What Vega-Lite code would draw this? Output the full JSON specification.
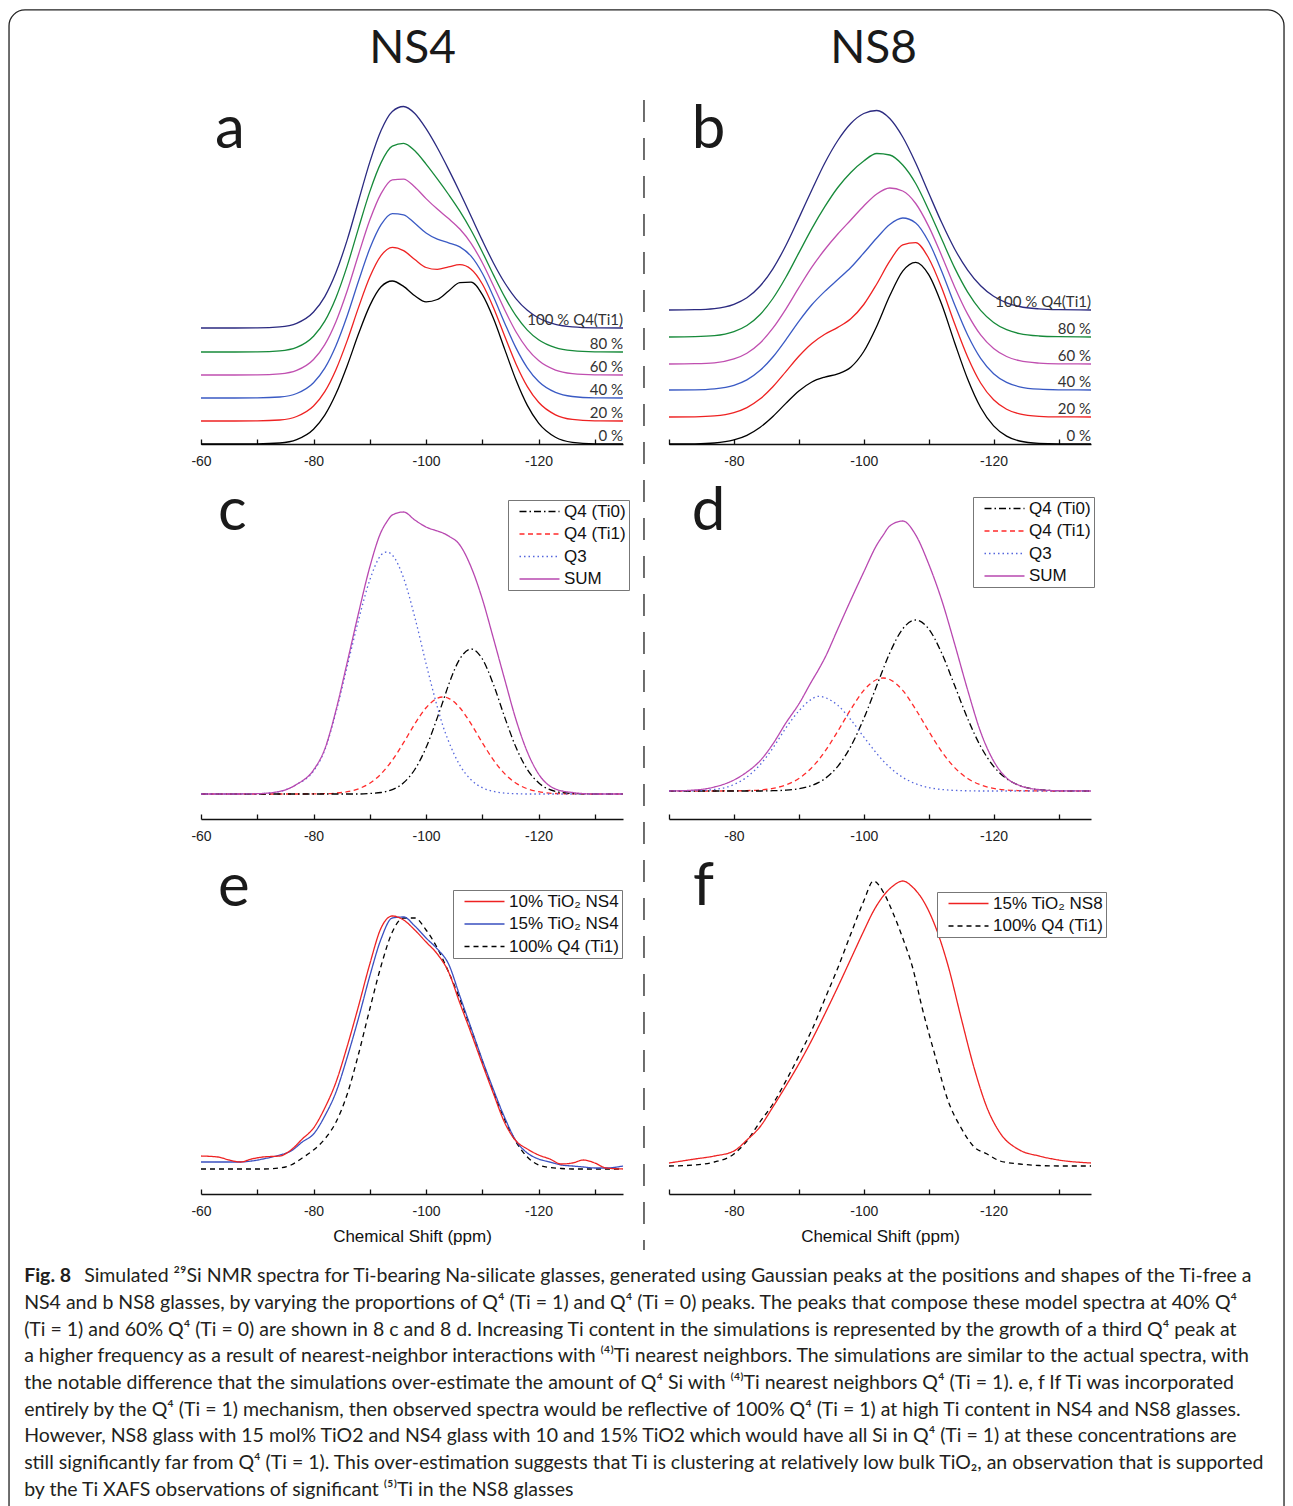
{
  "$schema": "https://vega.github.io/schema/vega-lite/v6.json",
  "background": "white",
  "padding": {"left": 8, "top": 9, "right": 4, "bottom": 0},
  "autosize": {"type": "pad"},
  "config": {
    "view": {"stroke": null},
    "font": "Liberation Sans",
    "axisX": {"tickSize": -5, "labelPadding": 15, "labelFontSize": 14, "labelFont": "Liberation Sans", "labelColor": "#222", "domainColor": "#111", "tickColor": "#111", "domainWidth": 1.3, "tickWidth": 1.3, "labelFlush": false, "labelOverlap": false, "grid": false, "titleFont": "Liberation Sans", "titleFontSize": 17, "titleFontWeight": "normal", "titleColor": "#111", "titlePadding": 10},
    "legend": {"padding": 3, "strokeColor": "#777", "fillColor": "#fff", "symbolSize": 100, "symbolStrokeWidth": 1.3, "labelFont": "Liberation Sans", "labelFontSize": 17, "labelColor": "#111", "labelOffset": 36, "rowPadding": 4.5, "labelLimit": 300}
  },
  "datasets": {
    "A": [
      {"p":-60,"0 %":0,"20 %":23,"40 %":46,"60 %":69,"80 %":92,"100 %":116},
      {"p":-66,"0 %":0,"20 %":23,"40 %":46,"60 %":69,"80 %":92,"100 %":116},
      {"p":-70,"0 %":0.1,"20 %":23.1,"40 %":46.1,"60 %":69.1,"80 %":92.1,"100 %":116.1},
      {"p":-74,"0 %":1,"20 %":24,"40 %":47,"60 %":70.1,"80 %":93.1,"100 %":117.1},
      {"p":-77,"0 %":4.4,"20 %":27.5,"40 %":50.5,"60 %":73.6,"80 %":96.6,"100 %":120.7},
      {"p":-80,"0 %":14.8,"20 %":38,"40 %":61.3,"60 %":84.5,"80 %":107.8,"100 %":132},
      {"p":-82,"0 %":28.8,"20 %":52.3,"40 %":75.8,"60 %":99.4,"80 %":122.9,"100 %":147.4},
      {"p":-84,"0 %":50.4,"20 %":74.5,"40 %":98.5,"60 %":122.6,"80 %":146.6,"100 %":171.7},
      {"p":-86,"0 %":78.6,"20 %":103.6,"40 %":128.5,"60 %":153.5,"80 %":178.4,"100 %":204.4},
      {"p":-88,"0 %":110.2,"20 %":136.6,"40 %":163,"60 %":189.5,"80 %":215.9,"100 %":243.3},
      {"p":-90,"0 %":138.4,"20 %":166.9,"40 %":195.4,"60 %":223.9,"80 %":252.4,"100 %":281.9},
      {"p":-92,"0 %":157.2,"20 %":188.3,"40 %":219.3,"60 %":250.4,"80 %":281.4,"100 %":313.5},
      {"p":-94,"0 %":163,"20 %":196.7,"40 %":230.4,"60 %":264.2,"80 %":297.9,"100 %":332.6},
      {"p":-96,"0 %":157.6,"20 %":193.4,"40 %":229.2,"60 %":264.9,"80 %":300.7,"100 %":337.5},
      {"p":-98,"0 %":148.2,"20 %":184.5,"40 %":220.7,"60 %":257,"80 %":293.2,"100 %":330.5},
      {"p":-100,"0 %":142.1,"20 %":176.5,"40 %":211,"60 %":245.4,"80 %":279.9,"100 %":315.3},
      {"p":-102,"0 %":144.5,"20 %":174.6,"40 %":204.8,"60 %":234.9,"80 %":265.1,"100 %":296.2},
      {"p":-104,"0 %":153,"20 %":177.1,"40 %":201.2,"60 %":225.4,"80 %":249.5,"100 %":274.6},
      {"p":-106,"0 %":161.4,"20 %":179.3,"40 %":197.1,"60 %":215,"80 %":232.8,"100 %":251.7},
      {"p":-108,"0 %":161.8,"20 %":174.8,"40 %":187.8,"60 %":200.7,"80 %":213.7,"100 %":227.7},
      {"p":-110,"0 %":149.4,"20 %":160,"40 %":170.7,"60 %":181.3,"80 %":192,"100 %":203.6},
      {"p":-112,"0 %":125.2,"20 %":136.1,"40 %":147,"60 %":158,"80 %":168.9,"100 %":180.8},
      {"p":-114,"0 %":94.4,"20 %":107.5,"40 %":120.6,"60 %":133.8,"80 %":146.9,"100 %":161},
      {"p":-116,"0 %":63.7,"20 %":79.8,"40 %":95.9,"60 %":112,"80 %":128.1,"100 %":145.2},
      {"p":-118,"0 %":38.6,"20 %":57.4,"40 %":76.2,"60 %":95.1,"80 %":113.9,"100 %":133.7},
      {"p":-120,"0 %":20.9,"20 %":41.7,"40 %":62.5,"60 %":83.4,"80 %":104.2,"100 %":126},
      {"p":-123,"0 %":6.8,"20 %":29.2,"40 %":51.6,"60 %":73.9,"80 %":96.3,"100 %":119.7},
      {"p":-126,"0 %":1.7,"20 %":24.6,"40 %":47.5,"60 %":70.4,"80 %":93.3,"100 %":117.2},
      {"p":-130,"0 %":0.2,"20 %":23.2,"40 %":46.2,"60 %":69.2,"80 %":92.2,"100 %":116.2},
      {"p":-135,"0 %":0,"20 %":23,"40 %":46,"60 %":69,"80 %":92,"100 %":116}
    ],
    "B": [
      {"p":-70,"0 %":0,"20 %":27,"40 %":54,"60 %":80,"80 %":107,"100 %":134},
      {"p":-74,"0 %":0.2,"20 %":27.2,"40 %":54.2,"60 %":80.3,"80 %":107.3,"100 %":134.3},
      {"p":-77,"0 %":1,"20 %":28.1,"40 %":55.2,"60 %":81.2,"80 %":108.3,"100 %":135.4},
      {"p":-80,"0 %":4.1,"20 %":31.4,"40 %":58.7,"60 %":85.1,"80 %":112.4,"100 %":139.7},
      {"p":-82,"0 %":8.7,"20 %":36.4,"40 %":64.1,"60 %":90.8,"80 %":118.5,"100 %":146.2},
      {"p":-84,"0 %":16.5,"20 %":44.9,"40 %":73.4,"60 %":100.8,"80 %":129.3,"100 %":157.7},
      {"p":-86,"0 %":27.6,"20 %":57.3,"40 %":87,"60 %":115.8,"80 %":145.5,"100 %":175.2},
      {"p":-88,"0 %":40.6,"20 %":72.4,"40 %":104.2,"60 %":134.9,"80 %":166.7,"100 %":198.5},
      {"p":-90,"0 %":53,"20 %":87.8,"40 %":122.6,"60 %":156.3,"80 %":191.1,"100 %":225.9},
      {"p":-92,"0 %":62,"20 %":100.6,"40 %":139.2,"60 %":176.8,"80 %":215.4,"100 %":254},
      {"p":-94,"0 %":66.9,"20 %":109.8,"40 %":152.6,"60 %":194.5,"80 %":237.3,"100 %":281},
      {"p":-96,"0 %":70.1,"20 %":116.6,"40 %":164.5,"60 %":210,"80 %":256.5,"100 %":303.5},
      {"p":-98,"0 %":76.8,"20 %":125.2,"40 %":176.5,"60 %":224,"80 %":271.5,"100 %":320.5},
      {"p":-100,"0 %":92.5,"20 %":139.5,"40 %":191,"60 %":238,"80 %":283,"100 %":330.5},
      {"p":-102,"0 %":117.8,"20 %":160,"40 %":206,"60 %":250,"80 %":290.5,"100 %":333.5},
      {"p":-104,"0 %":148.2,"20 %":182.8,"40 %":219.5,"60 %":256,"80 %":289,"100 %":325.5},
      {"p":-106,"0 %":172.9,"20 %":199.2,"40 %":226,"60 %":253,"80 %":279,"100 %":307},
      {"p":-108,"0 %":181.7,"20 %":201.4,"40 %":221.1,"60 %":240.5,"80 %":260.5,"100 %":281},
      {"p":-110,"0 %":169.4,"20 %":185.8,"40 %":202.2,"60 %":217.6,"80 %":234,"100 %":251},
      {"p":-112,"0 %":139.7,"20 %":156.2,"40 %":172.8,"60 %":188.3,"80 %":204.9,"100 %":221.4},
      {"p":-114,"0 %":101.3,"20 %":120.2,"40 %":139.2,"60 %":157.1,"80 %":176.1,"100 %":195},
      {"p":-116,"0 %":65,"20 %":87,"40 %":109,"60 %":129.9,"80 %":151.9,"100 %":173.9},
      {"p":-118,"0 %":36.5,"20 %":61,"40 %":85.6,"60 %":109.1,"80 %":133.7,"100 %":158.2},
      {"p":-120,"0 %":18.1,"20 %":44.2,"40 %":70.3,"60 %":95.5,"80 %":121.6,"100 %":147.7},
      {"p":-122,"0 %":7.9,"20 %":34.8,"40 %":61.6,"60 %":87.5,"80 %":114.3,"100 %":141.2},
      {"p":-124,"0 %":3,"20 %":30.1,"40 %":57.2,"60 %":83.3,"80 %":110.4,"100 %":137.5},
      {"p":-127,"0 %":0.6,"20 %":27.7,"40 %":54.8,"60 %":80.9,"80 %":108,"100 %":135.1},
      {"p":-130,"0 %":0.1,"20 %":27.1,"40 %":54.2,"60 %":80.2,"80 %":107.3,"100 %":134.3},
      {"p":-135,"0 %":0,"20 %":27,"40 %":54,"60 %":80,"80 %":107,"100 %":134}
    ],
    "C": [
      {"p":-60,"Q4 (Ti0)":0,"Q4 (Ti1)":0,"Q3":0,"SUM":0},
      {"p":-66,"Q4 (Ti0)":0,"Q4 (Ti1)":0,"Q3":0,"SUM":0},
      {"p":-70,"Q4 (Ti0)":0,"Q4 (Ti1)":0,"Q3":0.3,"SUM":0.3},
      {"p":-74,"Q4 (Ti0)":0,"Q4 (Ti1)":0,"Q3":2.6,"SUM":2.6},
      {"p":-77,"Q4 (Ti0)":0,"Q4 (Ti1)":0,"Q3":9.6,"SUM":9.6},
      {"p":-80,"Q4 (Ti0)":0,"Q4 (Ti1)":0.1,"Q3":23,"SUM":24},
      {"p":-82,"Q4 (Ti0)":0,"Q4 (Ti1)":0.3,"Q3":44,"SUM":45},
      {"p":-84,"Q4 (Ti0)":0,"Q4 (Ti1)":0.9,"Q3":82,"SUM":84},
      {"p":-86,"Q4 (Ti0)":0,"Q4 (Ti1)":2.3,"Q3":128,"SUM":132},
      {"p":-88,"Q4 (Ti0)":0,"Q4 (Ti1)":5.2,"Q3":174,"SUM":181},
      {"p":-90,"Q4 (Ti0)":0.5,"Q4 (Ti1)":10.8,"Q3":214,"SUM":227},
      {"p":-92,"Q4 (Ti0)":1.5,"Q4 (Ti1)":20.1,"Q3":238.9,"SUM":262},
      {"p":-93,"Q4 (Ti0)":2.6,"Q4 (Ti1)":26.5,"Q3":242,"SUM":272},
      {"p":-94,"Q4 (Ti0)":4.4,"Q4 (Ti1)":33.8,"Q3":238.9,"SUM":279},
      {"p":-96,"Q4 (Ti0)":11.2,"Q4 (Ti1)":51.3,"Q3":216.1,"SUM":282},
      {"p":-98,"Q4 (Ti0)":24.5,"Q4 (Ti1)":70.1,"Q3":176.7,"SUM":274},
      {"p":-100,"Q4 (Ti0)":46.4,"Q4 (Ti1)":86.3,"Q3":130.4,"SUM":267},
      {"p":-102,"Q4 (Ti0)":76.4,"Q4 (Ti1)":95.7,"Q3":87.1,"SUM":263},
      {"p":-103,"Q4 (Ti0)":92.5,"Q4 (Ti1)":97,"Q3":68,"SUM":261},
      {"p":-104,"Q4 (Ti0)":109.1,"Q4 (Ti1)":95.7,"Q3":52.8,"SUM":258},
      {"p":-106,"Q4 (Ti0)":135,"Q4 (Ti1)":86.3,"Q3":28.8,"SUM":249},
      {"p":-108,"Q4 (Ti0)":145,"Q4 (Ti1)":70.1,"Q3":14.2,"SUM":227},
      {"p":-110,"Q4 (Ti0)":135,"Q4 (Ti1)":51.3,"Q3":6.3,"SUM":195},
      {"p":-112,"Q4 (Ti0)":109.1,"Q4 (Ti1)":33.8,"Q3":2.6,"SUM":155},
      {"p":-114,"Q4 (Ti0)":76.4,"Q4 (Ti1)":20.1,"Q3":0.9,"SUM":114},
      {"p":-116,"Q4 (Ti0)":46.4,"Q4 (Ti1)":10.8,"Q3":0.3,"SUM":74},
      {"p":-118,"Q4 (Ti0)":24.5,"Q4 (Ti1)":5.2,"Q3":0,"SUM":42},
      {"p":-120,"Q4 (Ti0)":11.2,"Q4 (Ti1)":2.3,"Q3":0,"SUM":20},
      {"p":-123,"Q4 (Ti0)":2.6,"Q4 (Ti1)":0.5,"Q3":0,"SUM":5},
      {"p":-126,"Q4 (Ti0)":0.5,"Q4 (Ti1)":0.1,"Q3":0,"SUM":1.5},
      {"p":-130,"Q4 (Ti0)":0,"Q4 (Ti1)":0,"Q3":0,"SUM":0},
      {"p":-135,"Q4 (Ti0)":0,"Q4 (Ti1)":0,"Q3":0,"SUM":0}
    ],
    "D": [
      {"p":-70,"Q4 (Ti0)":0,"Q4 (Ti1)":0,"Q3":0,"SUM":0},
      {"p":-74,"Q4 (Ti0)":0,"Q4 (Ti1)":0,"Q3":0.3,"SUM":1},
      {"p":-77,"Q4 (Ti0)":0,"Q4 (Ti1)":0,"Q3":1.5,"SUM":4},
      {"p":-80,"Q4 (Ti0)":0,"Q4 (Ti1)":0.1,"Q3":6.5,"SUM":11},
      {"p":-82,"Q4 (Ti0)":0,"Q4 (Ti1)":0.4,"Q3":14,"SUM":19},
      {"p":-84,"Q4 (Ti0)":0,"Q4 (Ti1)":1,"Q3":26,"SUM":30},
      {"p":-86,"Q4 (Ti0)":0.3,"Q4 (Ti1)":2.6,"Q3":43,"SUM":47},
      {"p":-88,"Q4 (Ti0)":0.8,"Q4 (Ti1)":6.1,"Q3":63,"SUM":68},
      {"p":-90,"Q4 (Ti0)":2.2,"Q4 (Ti1)":12.5,"Q3":80,"SUM":87},
      {"p":-92,"Q4 (Ti0)":5.5,"Q4 (Ti1)":23.4,"Q3":92,"SUM":110},
      {"p":-93,"Q4 (Ti0)":8.3,"Q4 (Ti1)":30.8,"Q3":94.7,"SUM":121},
      {"p":-94,"Q4 (Ti0)":12.3,"Q4 (Ti1)":39.4,"Q3":93.5,"SUM":133},
      {"p":-96,"Q4 (Ti0)":24.7,"Q4 (Ti1)":59.8,"Q3":85.7,"SUM":162},
      {"p":-98,"Q4 (Ti0)":44.6,"Q4 (Ti1)":81.6,"Q3":71.3,"SUM":191},
      {"p":-100,"Q4 (Ti0)":72.4,"Q4 (Ti1)":100.6,"Q3":54.1,"SUM":219},
      {"p":-102,"Q4 (Ti0)":105.4,"Q4 (Ti1)":111.5,"Q3":37.5,"SUM":246},
      {"p":-103,"Q4 (Ti0)":122.2,"Q4 (Ti1)":113,"Q3":30.1,"SUM":256},
      {"p":-104,"Q4 (Ti0)":137.9,"Q4 (Ti1)":111.5,"Q3":23.7,"SUM":265},
      {"p":-106,"Q4 (Ti0)":162.1,"Q4 (Ti1)":100.6,"Q3":13.7,"SUM":270},
      {"p":-108,"Q4 (Ti0)":171,"Q4 (Ti1)":81.6,"Q3":7.2,"SUM":256},
      {"p":-110,"Q4 (Ti0)":162.1,"Q4 (Ti1)":59.8,"Q3":3.4,"SUM":227},
      {"p":-112,"Q4 (Ti0)":137.9,"Q4 (Ti1)":39.4,"Q3":1.5,"SUM":191},
      {"p":-114,"Q4 (Ti0)":105.4,"Q4 (Ti1)":23.4,"Q3":0.6,"SUM":147},
      {"p":-116,"Q4 (Ti0)":72.4,"Q4 (Ti1)":12.5,"Q3":0.2,"SUM":101},
      {"p":-118,"Q4 (Ti0)":44.6,"Q4 (Ti1)":6.1,"Q3":0,"SUM":59},
      {"p":-120,"Q4 (Ti0)":24.7,"Q4 (Ti1)":2.6,"Q3":0,"SUM":30},
      {"p":-122,"Q4 (Ti0)":12.3,"Q4 (Ti1)":1,"Q3":0,"SUM":13},
      {"p":-124,"Q4 (Ti0)":5.5,"Q4 (Ti1)":0.4,"Q3":0,"SUM":5.5},
      {"p":-127,"Q4 (Ti0)":1.3,"Q4 (Ti1)":0.1,"Q3":0,"SUM":1.4},
      {"p":-130,"Q4 (Ti0)":0.3,"Q4 (Ti1)":0,"Q3":0,"SUM":0.3},
      {"p":-135,"Q4 (Ti0)":0,"Q4 (Ti1)":0,"Q3":0,"SUM":0}
    ],
    "E": [
      {"p":-60,"10% TiO₂ NS4":38,"15% TiO₂ NS4":32,"100% Q4 (Ti1)":25},
      {"p":-63,"10% TiO₂ NS4":37,"15% TiO₂ NS4":32,"100% Q4 (Ti1)":25},
      {"p":-65,"10% TiO₂ NS4":34,"15% TiO₂ NS4":32,"100% Q4 (Ti1)":25},
      {"p":-67,"10% TiO₂ NS4":32,"15% TiO₂ NS4":32,"100% Q4 (Ti1)":25},
      {"p":-69,"10% TiO₂ NS4":35,"15% TiO₂ NS4":33,"100% Q4 (Ti1)":25},
      {"p":-71,"10% TiO₂ NS4":37,"15% TiO₂ NS4":35,"100% Q4 (Ti1)":25},
      {"p":-74,"10% TiO₂ NS4":38,"15% TiO₂ NS4":39,"100% Q4 (Ti1)":26},
      {"p":-76,"10% TiO₂ NS4":44,"15% TiO₂ NS4":43,"100% Q4 (Ti1)":29},
      {"p":-78,"10% TiO₂ NS4":55,"15% TiO₂ NS4":52,"100% Q4 (Ti1)":36},
      {"p":-80,"10% TiO₂ NS4":66,"15% TiO₂ NS4":60,"100% Q4 (Ti1)":44},
      {"p":-82,"10% TiO₂ NS4":86,"15% TiO₂ NS4":78,"100% Q4 (Ti1)":55},
      {"p":-84,"10% TiO₂ NS4":112,"15% TiO₂ NS4":102,"100% Q4 (Ti1)":72},
      {"p":-86,"10% TiO₂ NS4":148,"15% TiO₂ NS4":137,"100% Q4 (Ti1)":100},
      {"p":-88,"10% TiO₂ NS4":188,"15% TiO₂ NS4":176,"100% Q4 (Ti1)":140},
      {"p":-90,"10% TiO₂ NS4":230,"15% TiO₂ NS4":218,"100% Q4 (Ti1)":185},
      {"p":-92,"10% TiO₂ NS4":266,"15% TiO₂ NS4":255,"100% Q4 (Ti1)":228},
      {"p":-94,"10% TiO₂ NS4":278,"15% TiO₂ NS4":276,"100% Q4 (Ti1)":262},
      {"p":-96,"10% TiO₂ NS4":274,"15% TiO₂ NS4":277,"100% Q4 (Ti1)":276},
      {"p":-98,"10% TiO₂ NS4":264,"15% TiO₂ NS4":268,"100% Q4 (Ti1)":276},
      {"p":-100,"10% TiO₂ NS4":252,"15% TiO₂ NS4":256,"100% Q4 (Ti1)":264},
      {"p":-102,"10% TiO₂ NS4":240,"15% TiO₂ NS4":245,"100% Q4 (Ti1)":246},
      {"p":-104,"10% TiO₂ NS4":222,"15% TiO₂ NS4":230,"100% Q4 (Ti1)":222},
      {"p":-106,"10% TiO₂ NS4":191,"15% TiO₂ NS4":198,"100% Q4 (Ti1)":195},
      {"p":-108,"10% TiO₂ NS4":161,"15% TiO₂ NS4":166,"100% Q4 (Ti1)":165},
      {"p":-110,"10% TiO₂ NS4":130,"15% TiO₂ NS4":134,"100% Q4 (Ti1)":133},
      {"p":-112,"10% TiO₂ NS4":100,"15% TiO₂ NS4":104,"100% Q4 (Ti1)":102},
      {"p":-114,"10% TiO₂ NS4":71,"15% TiO₂ NS4":76,"100% Q4 (Ti1)":74},
      {"p":-116,"10% TiO₂ NS4":53,"15% TiO₂ NS4":53,"100% Q4 (Ti1)":52},
      {"p":-118,"10% TiO₂ NS4":45,"15% TiO₂ NS4":41,"100% Q4 (Ti1)":37},
      {"p":-120,"10% TiO₂ NS4":39,"15% TiO₂ NS4":35,"100% Q4 (Ti1)":29},
      {"p":-122,"10% TiO₂ NS4":35,"15% TiO₂ NS4":32,"100% Q4 (Ti1)":26.5},
      {"p":-124,"10% TiO₂ NS4":30,"15% TiO₂ NS4":29,"100% Q4 (Ti1)":25.5},
      {"p":-126,"10% TiO₂ NS4":31,"15% TiO₂ NS4":28,"100% Q4 (Ti1)":25},
      {"p":-128,"10% TiO₂ NS4":34,"15% TiO₂ NS4":27,"100% Q4 (Ti1)":25},
      {"p":-130,"10% TiO₂ NS4":31,"15% TiO₂ NS4":26,"100% Q4 (Ti1)":25},
      {"p":-132,"10% TiO₂ NS4":26,"15% TiO₂ NS4":26,"100% Q4 (Ti1)":25},
      {"p":-135,"10% TiO₂ NS4":25,"15% TiO₂ NS4":28,"100% Q4 (Ti1)":25}
    ],
    "F": [
      {"p":-70,"15% TiO₂ NS8":31,"100% Q4 (Ti1)":28},
      {"p":-74,"15% TiO₂ NS8":35,"100% Q4 (Ti1)":29},
      {"p":-77,"15% TiO₂ NS8":38,"100% Q4 (Ti1)":32},
      {"p":-80,"15% TiO₂ NS8":43,"100% Q4 (Ti1)":40},
      {"p":-82,"15% TiO₂ NS8":54,"100% Q4 (Ti1)":53},
      {"p":-84,"15% TiO₂ NS8":67,"100% Q4 (Ti1)":72},
      {"p":-86,"15% TiO₂ NS8":87,"100% Q4 (Ti1)":90},
      {"p":-88,"15% TiO₂ NS8":108,"100% Q4 (Ti1)":113},
      {"p":-90,"15% TiO₂ NS8":130,"100% Q4 (Ti1)":138},
      {"p":-92,"15% TiO₂ NS8":154,"100% Q4 (Ti1)":164},
      {"p":-94,"15% TiO₂ NS8":180,"100% Q4 (Ti1)":195},
      {"p":-96,"15% TiO₂ NS8":207,"100% Q4 (Ti1)":226},
      {"p":-98,"15% TiO₂ NS8":235,"100% Q4 (Ti1)":260},
      {"p":-100,"15% TiO₂ NS8":263,"100% Q4 (Ti1)":293},
      {"p":-101.5,"15% TiO₂ NS8":283,"100% Q4 (Ti1)":313},
      {"p":-103,"15% TiO₂ NS8":298,"100% Q4 (Ti1)":302},
      {"p":-104.5,"15% TiO₂ NS8":308,"100% Q4 (Ti1)":281},
      {"p":-106,"15% TiO₂ NS8":313,"100% Q4 (Ti1)":256},
      {"p":-107.5,"15% TiO₂ NS8":307,"100% Q4 (Ti1)":227},
      {"p":-109,"15% TiO₂ NS8":295,"100% Q4 (Ti1)":186},
      {"p":-111,"15% TiO₂ NS8":268,"100% Q4 (Ti1)":138},
      {"p":-113,"15% TiO₂ NS8":228,"100% Q4 (Ti1)":93},
      {"p":-115,"15% TiO₂ NS8":176,"100% Q4 (Ti1)":66},
      {"p":-117,"15% TiO₂ NS8":126,"100% Q4 (Ti1)":47},
      {"p":-119,"15% TiO₂ NS8":86,"100% Q4 (Ti1)":40},
      {"p":-121,"15% TiO₂ NS8":61,"100% Q4 (Ti1)":33},
      {"p":-124,"15% TiO₂ NS8":44,"100% Q4 (Ti1)":30},
      {"p":-127,"15% TiO₂ NS8":38,"100% Q4 (Ti1)":28.5},
      {"p":-130,"15% TiO₂ NS8":34,"100% Q4 (Ti1)":28},
      {"p":-135,"15% TiO₂ NS8":31,"100% Q4 (Ti1)":28}
    ]
  },
  "columns": 2,
  "spacing": {"row": 45, "column": 46},
  "bounds": "flush",
  "resolve": {"scale": {"x": "independent", "y": "independent", "color": "independent", "strokeDash": "independent"}},
  "concat": [
    {
      "width": 422, "height": 330,
      "layer": [
        {
          "data": {"name": "A"},
          "transform": [{"fold": ["100 %", "80 %", "60 %", "40 %", "20 %", "0 %"], "as": ["s", "v"]}],
          "mark": {"type": "line", "strokeWidth": 1.3, "interpolate": "monotone"},
          "encoding": {
            "x": {"field": "p", "type": "quantitative", "scale": {"domain": [-135, -60], "reverse": true, "nice": false, "zero": false}, "axis": {"values": [-60, -70, -80, -90, -100, -110, -120, -130], "labelExpr": "datum.value % 20 == 0 ? '' + datum.value : ''", "title": null}},
            "y": {"field": "v", "type": "quantitative", "scale": {"domain": [0, 330], "nice": false, "zero": false}, "axis": null},
            "color": {"field": "s", "type": "nominal", "scale": {"domain": ["0 %", "20 %", "40 %", "60 %", "80 %", "100 %"], "range": ["#000000", "#ee2222", "#3a5ac4", "#c04fb0", "#178a3a", "#2b2a80"]}, "legend": null}
          }
        },
        {
          "data": {"values": [{"lab": "100 % Q4(Ti1)", "base": 116}, {"lab": "80 %", "base": 92}, {"lab": "60 %", "base": 69}, {"lab": "40 %", "base": 46}, {"lab": "20 %", "base": 23}, {"lab": "0 %", "base": 0}]},
          "mark": {"type": "text", "align": "right", "baseline": "alphabetic", "dy": -3, "font": "Lato", "fontSize": 15, "color": "#333"},
          "encoding": {"x": {"datum": -135}, "y": {"field": "base", "type": "quantitative"}, "text": {"field": "lab"}}
        },
        {
          "data": {"values": [{"t": "a"}]},
          "mark": {"type": "text", "align": "left", "baseline": "alphabetic", "font": "Lato", "fontSize": 60, "color": "#1a1a1a"},
          "encoding": {"x": {"datum": -62.5}, "y": {"datum": 296}, "text": {"field": "t"}}
        },
        {
          "data": {"values": [{"t": "NS4"}]},
          "mark": {"type": "text", "align": "center", "baseline": "alphabetic", "font": "Lato", "fontSize": 46, "color": "#1a1a1a"},
          "encoding": {"x": {"datum": -97.6}, "y": {"datum": 381}, "text": {"field": "t"}}
        }
      ]
    },
    {
      "width": 422, "height": 330,
      "layer": [
        {
          "data": {"name": "B"},
          "transform": [{"fold": ["100 %", "80 %", "60 %", "40 %", "20 %", "0 %"], "as": ["s", "v"]}],
          "mark": {"type": "line", "strokeWidth": 1.3, "interpolate": "monotone"},
          "encoding": {
            "x": {"field": "p", "type": "quantitative", "scale": {"domain": [-135, -70], "reverse": true, "nice": false, "zero": false}, "axis": {"values": [-70, -80, -90, -100, -110, -120, -130], "labelExpr": "datum.value % 20 == 0 ? '' + datum.value : ''", "title": null}},
            "y": {"field": "v", "type": "quantitative", "scale": {"domain": [0, 330], "nice": false, "zero": false}, "axis": null},
            "color": {"field": "s", "type": "nominal", "scale": {"domain": ["0 %", "20 %", "40 %", "60 %", "80 %", "100 %"], "range": ["#000000", "#ee2222", "#3a5ac4", "#c04fb0", "#178a3a", "#2b2a80"]}, "legend": null}
          }
        },
        {
          "data": {"values": [{"lab": "100 % Q4(Ti1)", "base": 134}, {"lab": "80 %", "base": 107}, {"lab": "60 %", "base": 80}, {"lab": "40 %", "base": 54}, {"lab": "20 %", "base": 27}, {"lab": "0 %", "base": 0}]},
          "mark": {"type": "text", "align": "right", "baseline": "alphabetic", "dy": -3, "font": "Lato", "fontSize": 15, "color": "#333"},
          "encoding": {"x": {"datum": -135}, "y": {"field": "base", "type": "quantitative"}, "text": {"field": "lab"}}
        },
        {
          "data": {"values": [{"t": "b"}]},
          "mark": {"type": "text", "align": "left", "baseline": "alphabetic", "font": "Lato", "fontSize": 60, "color": "#1a1a1a"},
          "encoding": {"x": {"datum": -73.5}, "y": {"datum": 296}, "text": {"field": "t"}}
        },
        {
          "data": {"values": [{"t": "NS8"}]},
          "mark": {"type": "text", "align": "center", "baseline": "alphabetic", "font": "Lato", "fontSize": 46, "color": "#1a1a1a"},
          "encoding": {"x": {"datum": -101.5}, "y": {"datum": 381}, "text": {"field": "t"}}
        }
      ]
    },
    {
      "width": 422, "height": 330,
      "layer": [
        {
          "data": {"name": "C"},
          "transform": [{"fold": ["Q4 (Ti1)", "Q4 (Ti0)", "Q3", "SUM"], "as": ["s", "v"]}],
          "mark": {"type": "line", "strokeWidth": 1.3, "interpolate": "monotone"},
          "encoding": {
            "x": {"field": "p", "type": "quantitative", "scale": {"domain": [-135, -60], "reverse": true, "nice": false, "zero": false}, "axis": {"values": [-60, -70, -80, -90, -100, -110, -120, -130], "labelExpr": "datum.value % 20 == 0 ? '' + datum.value : ''", "title": null}},
            "y": {"field": "v", "type": "quantitative", "scale": {"domain": [-25, 305], "nice": false, "zero": false}, "axis": null},
            "color": {"field": "s", "type": "nominal", "scale": {"domain": ["Q4 (Ti0)", "Q4 (Ti1)", "Q3", "SUM"], "range": ["#000000", "#ff2a2a", "#5566dd", "#b848b0"]}, "legend": {"title": null, "orient": "none", "legendX": 307, "legendY": 11, "symbolType": "M0,0H8"}},
            "strokeDash": {"field": "s", "type": "nominal", "scale": {"domain": ["Q4 (Ti0)", "Q4 (Ti1)", "Q3", "SUM"], "range": [[7, 3, 1.5, 3], [5, 3.5], [1.5, 3], [1, 0]]}, "legend": {"title": null, "orient": "none", "legendX": 307, "legendY": 11, "symbolType": "M0,0H8"}}
          }
        },
        {
          "data": {"values": [{"t": "c"}]},
          "mark": {"type": "text", "align": "left", "baseline": "alphabetic", "font": "Lato", "fontSize": 60, "color": "#1a1a1a"},
          "encoding": {"x": {"datum": -63}, "y": {"datum": 264}, "text": {"field": "t"}}
        }
      ]
    },
    {
      "width": 422, "height": 330,
      "layer": [
        {
          "data": {"name": "D"},
          "transform": [{"fold": ["Q4 (Ti1)", "Q4 (Ti0)", "Q3", "SUM"], "as": ["s", "v"]}],
          "mark": {"type": "line", "strokeWidth": 1.3, "interpolate": "monotone"},
          "encoding": {
            "x": {"field": "p", "type": "quantitative", "scale": {"domain": [-135, -70], "reverse": true, "nice": false, "zero": false}, "axis": {"values": [-70, -80, -90, -100, -110, -120, -130], "labelExpr": "datum.value % 20 == 0 ? '' + datum.value : ''", "title": null}},
            "y": {"field": "v", "type": "quantitative", "scale": {"domain": [-28, 302], "nice": false, "zero": false}, "axis": null},
            "color": {"field": "s", "type": "nominal", "scale": {"domain": ["Q4 (Ti0)", "Q4 (Ti1)", "Q3", "SUM"], "range": ["#000000", "#ff2a2a", "#5566dd", "#b848b0"]}, "legend": {"title": null, "orient": "none", "legendX": 304, "legendY": 8, "symbolType": "M0,0H8"}},
            "strokeDash": {"field": "s", "type": "nominal", "scale": {"domain": ["Q4 (Ti0)", "Q4 (Ti1)", "Q3", "SUM"], "range": [[7, 3, 1.5, 3], [5, 3.5], [1.5, 3], [1, 0]]}, "legend": {"title": null, "orient": "none", "legendX": 304, "legendY": 8, "symbolType": "M0,0H8"}}
          }
        },
        {
          "data": {"values": [{"t": "d"}]},
          "mark": {"type": "text", "align": "left", "baseline": "alphabetic", "font": "Lato", "fontSize": 60, "color": "#1a1a1a"},
          "encoding": {"x": {"datum": -73.5}, "y": {"datum": 261}, "text": {"field": "t"}}
        }
      ]
    },
    {
      "width": 422, "height": 330,
      "layer": [
        {
          "data": {"name": "E"},
          "transform": [{"fold": ["100% Q4 (Ti1)", "15% TiO₂ NS4", "10% TiO₂ NS4"], "as": ["s", "v"]}],
          "mark": {"type": "line", "strokeWidth": 1.3, "interpolate": "monotone"},
          "encoding": {
            "x": {"field": "p", "type": "quantitative", "scale": {"domain": [-135, -60], "reverse": true, "nice": false, "zero": false}, "axis": {"values": [-60, -70, -80, -90, -100, -110, -120, -130], "labelExpr": "datum.value % 20 == 0 ? '' + datum.value : ''", "title": "Chemical Shift (ppm)"}},
            "y": {"field": "v", "type": "quantitative", "scale": {"domain": [0, 330], "nice": false, "zero": false}, "axis": null},
            "color": {"field": "s", "type": "nominal", "scale": {"domain": ["10% TiO₂ NS4", "15% TiO₂ NS4", "100% Q4 (Ti1)"], "range": ["#ee2222", "#3a50c0", "#000000"]}, "legend": {"title": null, "orient": "none", "legendX": 252, "legendY": 26, "symbolType": "M0,0H8"}},
            "strokeDash": {"field": "s", "type": "nominal", "scale": {"domain": ["10% TiO₂ NS4", "15% TiO₂ NS4", "100% Q4 (Ti1)"], "range": [[1, 0], [1, 0], [5, 4]]}, "legend": {"title": null, "orient": "none", "legendX": 252, "legendY": 26, "symbolType": "M0,0H8"}}
          }
        },
        {
          "data": {"values": [{"t": "e"}]},
          "mark": {"type": "text", "align": "left", "baseline": "alphabetic", "font": "Lato", "fontSize": 60, "color": "#1a1a1a"},
          "encoding": {"x": {"datum": -63}, "y": {"datum": 288}, "text": {"field": "t"}}
        }
      ]
    },
    {
      "width": 422, "height": 330,
      "layer": [
        {
          "data": {"name": "F"},
          "transform": [{"fold": ["100% Q4 (Ti1)", "15% TiO₂ NS8"], "as": ["s", "v"]}],
          "mark": {"type": "line", "strokeWidth": 1.3, "interpolate": "monotone"},
          "encoding": {
            "x": {"field": "p", "type": "quantitative", "scale": {"domain": [-135, -70], "reverse": true, "nice": false, "zero": false}, "axis": {"values": [-70, -80, -90, -100, -110, -120, -130], "labelExpr": "datum.value % 20 == 0 ? '' + datum.value : ''", "title": "Chemical Shift (ppm)"}},
            "y": {"field": "v", "type": "quantitative", "scale": {"domain": [0, 330], "nice": false, "zero": false}, "axis": null},
            "color": {"field": "s", "type": "nominal", "scale": {"domain": ["15% TiO₂ NS8", "100% Q4 (Ti1)"], "range": ["#ee2222", "#000000"]}, "legend": {"title": null, "orient": "none", "legendX": 268, "legendY": 28, "symbolType": "M0,0H8"}},
            "strokeDash": {"field": "s", "type": "nominal", "scale": {"domain": ["15% TiO₂ NS8", "100% Q4 (Ti1)"], "range": [[1, 0], [5, 4]]}, "legend": {"title": null, "orient": "none", "legendX": 268, "legendY": 28, "symbolType": "M0,0H8"}}
          }
        },
        {
          "data": {"values": [{"t": "f"}]},
          "mark": {"type": "text", "align": "left", "baseline": "alphabetic", "font": "Lato", "fontSize": 60, "color": "#1a1a1a"},
          "encoding": {"x": {"datum": -73.7}, "y": {"datum": 289}, "text": {"field": "t"}}
        }
      ]
    },
    {
      "width": 422, "height": 264,
      "layer": [
        {
          "data": {"values": [
            {"line": 2, "t": "NS4 and b NS8 glasses, by varying the proportions of Q⁴ (Ti = 1) and Q⁴ (Ti = 0) peaks. The peaks that compose these model spectra at 40% Q⁴"},
            {"line": 3, "t": "(Ti = 1) and 60% Q⁴ (Ti = 0) are shown in 8 c and 8 d. Increasing Ti content in the simulations is represented by the growth of a third Q⁴ peak at"},
            {"line": 4, "t": "a higher frequency as a result of nearest-neighbor interactions with ⁽⁴⁾Ti nearest neighbors. The simulations are similar to the actual spectra, with"},
            {"line": 5, "t": "the notable difference that the simulations over-estimate the amount of Q⁴ Si with ⁽⁴⁾Ti nearest neighbors Q⁴ (Ti = 1). e, f If Ti was incorporated"},
            {"line": 6, "t": "entirely by the Q⁴ (Ti = 1) mechanism, then observed spectra would be reflective of 100% Q⁴ (Ti = 1) at high Ti content in NS4 and NS8 glasses."},
            {"line": 7, "t": "However, NS8 glass with 15 mol% TiO2 and NS4 glass with 10 and 15% TiO2 which would have all Si in Q⁴ (Ti = 1) at these concentrations are"},
            {"line": 8, "t": "still significantly far from Q⁴ (Ti = 1). This over-estimation suggests that Ti is clustering at relatively low bulk TiO₂, an observation that is supported"},
            {"line": 9, "t": "by the Ti XAFS observations of significant ⁽⁵⁾Ti in the NS8 glasses"}
          ]},
          "mark": {"type": "text", "align": "left", "baseline": "middle", "font": "Lato", "fontSize": 19.5, "color": "#231f20"},
          "encoding": {
            "x": {"datum": -28.57, "type": "quantitative", "scale": {"domain": [-135, -60], "reverse": true, "nice": false, "zero": false}, "axis": null},
            "y": {"field": "line", "type": "quantitative", "scale": {"domain": [-0.4, 9.5], "reverse": true, "nice": false, "zero": false}, "axis": null},
            "text": {"field": "t"}
          }
        },
        {
          "data": {"values": [{"line": 1, "t": "Fig. 8"}]},
          "mark": {"type": "text", "align": "left", "baseline": "middle", "font": "Lato", "fontWeight": "bold", "fontSize": 19.5, "color": "#231f20"},
          "encoding": {"x": {"datum": -28.57}, "y": {"field": "line", "type": "quantitative"}, "text": {"field": "t"}}
        },
        {
          "data": {"values": [{"line": 1, "t": "Simulated ²⁹Si NMR spectra for Ti-bearing Na-silicate glasses, generated using Gaussian peaks at the positions and shapes of the Ti-free a"}]},
          "mark": {"type": "text", "align": "left", "baseline": "middle", "dx": 60, "font": "Lato", "fontSize": 19.5, "color": "#231f20"},
          "encoding": {"x": {"datum": -28.57}, "y": {"field": "line", "type": "quantitative"}, "text": {"field": "t"}}
        },
        {
          "data": {"values": [{}]},
          "mark": {"type": "rect", "filled": false, "stroke": "#222", "strokeWidth": 1.3, "cornerRadius": 16},
          "encoding": {"x": {"datum": -25.88}, "x2": {"datum": -252.48}, "y": {"datum": -46.49}, "y2": {"datum": 10.51}}
        },
        {
          "data": {"values": [{}]},
          "mark": {"type": "rule", "strokeDash": [22, 16], "strokeWidth": 1.3, "color": "#222"},
          "encoding": {"x": {"datum": -138.73}, "y": {"datum": -43.11}, "y2": {"datum": 0.0125}}
        }
      ]
    }
  ]
}
